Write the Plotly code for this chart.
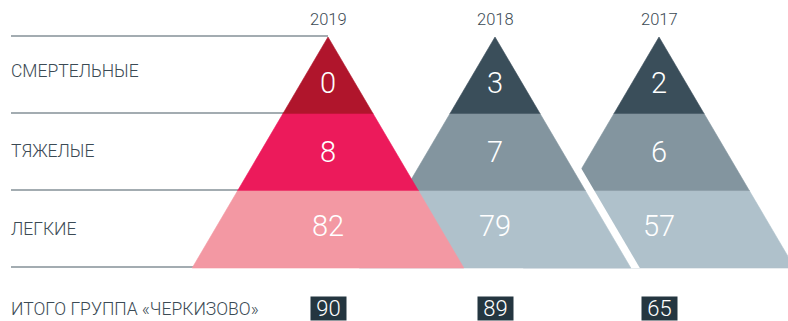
import plotly.graph_objects as go

# Injury statistics by year and severity
years = ["2019", "2018", "2017"]
categories = ["СМЕРТЕЛЬНЫЕ", "ТЯЖЕЛЫЕ", "ЛЕГКИЕ"]
fatal = [0, 3, 2]
severe = [8, 7, 6]
light = [82, 79, 57]
totals = [90, 89, 65]
total_label = "ИТОГО ГРУППА «ЧЕРКИЗОВО»"

# Pyramid colours (top, middle, bottom band) per year
palettes = {
    "2019": ["#B0152C", "#EC1A5B", "#F398A3"],
    "2018": ["#3A4E5A", "#83959F", "#AFC1CB"],
    "2017": ["#3A4E5A", "#83959F", "#AFC1CB"],
}

# Layout geometry (pixel space)
W, H = 788, 321
apex_x = {"2019": 328, "2018": 495, "2017": 659}
top_y = 37
band_h = 77
slope = 0.588          # half-width growth per pixel of height
gap = 9                # white separation behind the 2018 pyramid
rule_ys = [36, 113, 190, 267]
label_x = 9
label_ys = [71, 151, 229]
value_ys = [83, 152, 226]
total_y = 308.5

TEXT = "#3B4A54"
FONT = "Roboto"

fig = go.Figure()


def hw(y):
    return (y - top_y) * slope


# Horizontal rules behind the pyramids
for y in rule_ys:
    fig.add_trace(go.Scatter(
        x=[label_x + 2, apex_x["2019"]], y=[y, y], mode="lines",
        line=dict(color="#849097", width=1.5), hoverinfo="skip", showlegend=False))


def add_pyramid(year):
    cx = apex_x[year]
    for i, color in enumerate(palettes[year]):
        y0 = top_y + i * band_h
        y1 = y0 + band_h
        xs = [cx - hw(y0), cx + hw(y0), cx + hw(y1), cx - hw(y1), cx - hw(y0)]
        ys = [y0, y0, y1, y1, y0]
        fig.add_trace(go.Scatter(
            x=xs, y=ys, mode="lines", fill="toself", fillcolor=color,
            line=dict(width=0.6, color=color), hoverinfo="skip", showlegend=False))


bottom_y = top_y + 3 * band_h

add_pyramid("2017")

# White wedge that separates 2018 from the 2017 pyramid behind it
cx = apex_x["2018"] + gap
fig.add_trace(go.Scatter(
    x=[cx, cx + hw(bottom_y), cx - hw(bottom_y), cx],
    y=[top_y, bottom_y, bottom_y, top_y],
    mode="lines", fill="toself", fillcolor="white",
    line=dict(width=0, color="white"), hoverinfo="skip", showlegend=False))

add_pyramid("2018")
add_pyramid("2019")

annotations = []

# Year headings
for yr in years:
    annotations.append(dict(x=apex_x[yr], y=19, text=yr, showarrow=False,
                            font=dict(family=FONT, size=16.5, color=TEXT, weight=300)))

# Row labels
for cat, y in zip(categories, label_ys):
    annotations.append(dict(x=label_x, y=y, text=cat, showarrow=False, xanchor="left",
                            font=dict(family=FONT, size=17.5, color=TEXT, weight=300)))
annotations.append(dict(x=label_x, y=total_y, text=total_label, showarrow=False,
                        xanchor="left",
                        font=dict(family=FONT, size=17.5, color=TEXT, weight=300)))

# Values inside the bands and yearly totals
for i, yr in enumerate(years):
    for vals, y in zip([fatal, severe, light], value_ys):
        annotations.append(dict(x=apex_x[yr], y=y, text=str(vals[i]), showarrow=False,
                                font=dict(family=FONT, size=29, color="white", weight=300)))
    annotations.append(dict(x=apex_x[yr], y=total_y, text=str(totals[i]), showarrow=False,
                            bgcolor="#243640", borderpad=0, width=35, height=23,
                            font=dict(family=FONT, size=22, color="white", weight=300)))

fig.update_layout(
    width=W, height=H,
    margin=dict(l=0, r=0, t=0, b=0),
    paper_bgcolor="white", plot_bgcolor="white",
    xaxis=dict(range=[0, W], visible=False, fixedrange=True),
    yaxis=dict(range=[H, 0], visible=False, fixedrange=True),
    annotations=annotations,
    showlegend=False,
)

fig.write_html("out.html")
